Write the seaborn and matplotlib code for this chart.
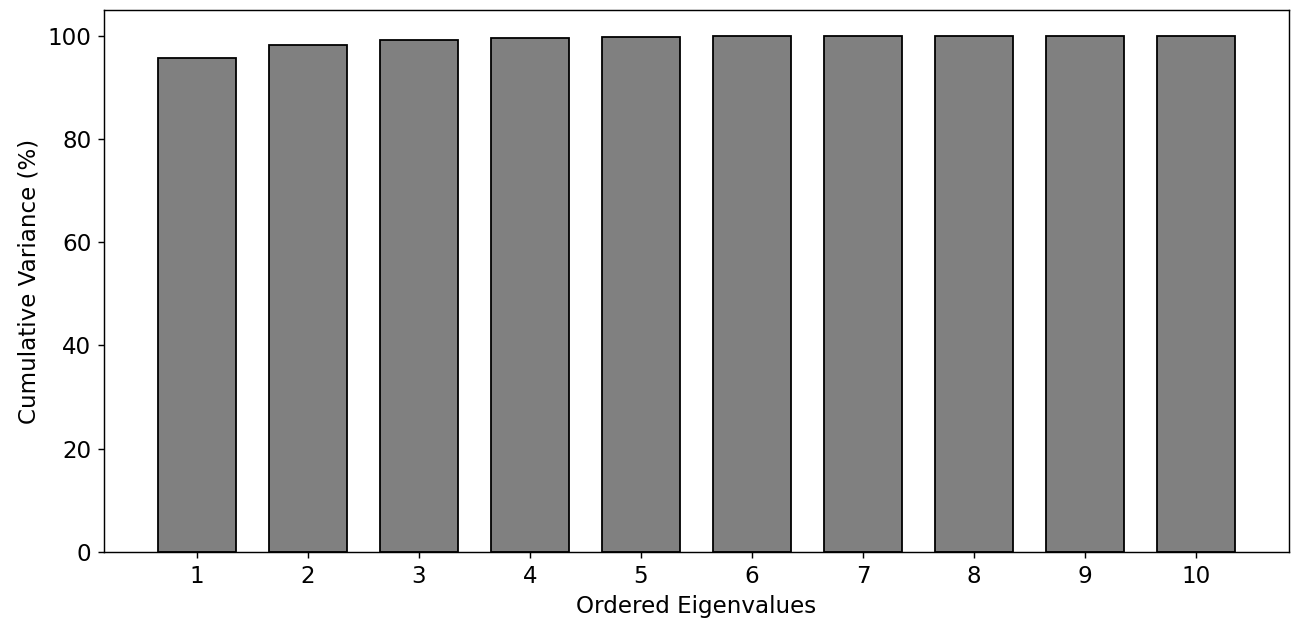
import pandas as pd
import seaborn as sns
import matplotlib.pyplot as plt

# cumulative explained variance per ordered eigenvalue
eigen_idx = [1, 2, 3, 4, 5, 6, 7, 8, 9, 10]
cum_var = [95.6, 98.3, 99.2, 99.6, 99.85, 99.92, 99.96, 99.98, 99.99, 100.0]

df = pd.DataFrame({"eigen": eigen_idx, "cumvar": cum_var})

plt.rcParams["font.family"] = ["DejaVu Sans"]
plt.rcParams["font.size"] = 12.8

fig, ax = plt.subplots(figsize=(10, 623 / 129.6), dpi=129.6)
sns.barplot(x="eigen", y="cumvar", data=df, color="gray", saturation=1,
            edgecolor="black", linewidth=1.0, width=0.7, ax=ax)

ax.set_xlim(-0.835, 9.835)
ax.set_ylim(0, 105)
ax.set_xlabel("Ordered Eigenvalues")
ax.set_ylabel("Cumulative Variance (%)")

fig.subplots_adjust(left=0.0802, right=0.9946, top=0.984, bottom=0.114)
fig.savefig("out.png", dpi=129.6)
